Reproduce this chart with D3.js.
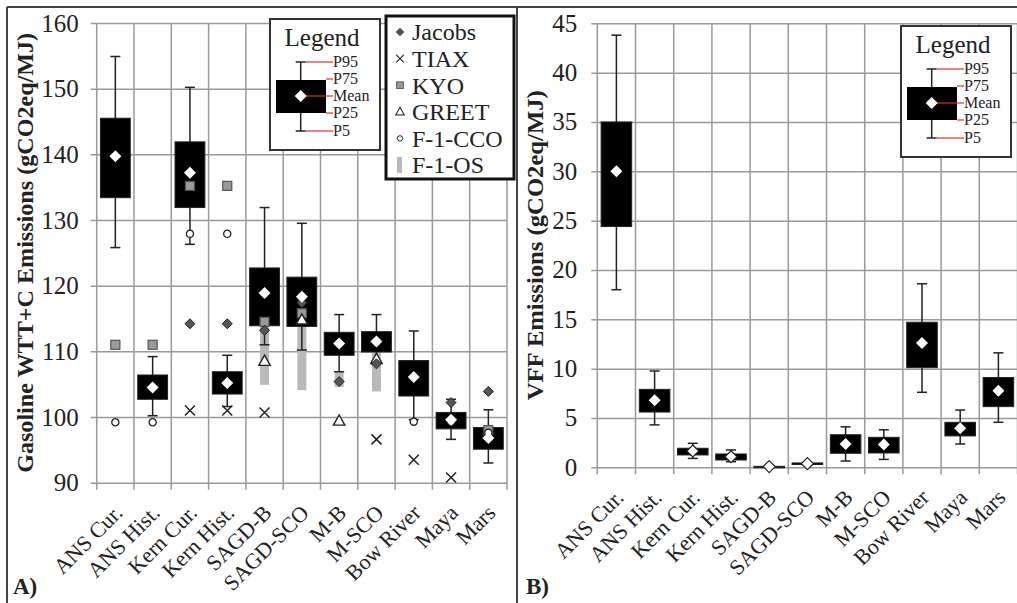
<!DOCTYPE html>
<html>
<head>
<meta charset="utf-8">
<script src="https://cdn.jsdelivr.net/npm/d3@7"></script>
<style>
  body { margin: 0; background: #fff; }
  svg { display: block; font-family: "Liberation Serif", "Times New Roman", serif; }
</style>
</head>
<body>
<svg id="chart" width="1017" height="603"></svg>
<script>
var crudes = ["ANS Cur.", "ANS Hist.", "Kern Cur.", "Kern Hist.", "SAGD-B", "SAGD-SCO", "M-B", "M-SCO", "Bow River", "Maya", "Mars"];

// A) gasoline WTT+C emissions (gCO2eq/MJ)
var wttP5   = [125.8, 100.2, 126.3, 101.6, 111.0, 110.2, 106.9, 108.5,  99.6,  96.6,  93.0];
var wttP25  = [133.4, 102.7, 131.9, 103.5, 113.9, 113.8, 109.4, 109.9, 103.2,  98.2,  95.1];
var wttMean = [139.7, 104.5, 137.2, 105.2, 118.9, 118.3, 111.2, 111.5, 106.1,  99.6,  96.8];
var wttP75  = [145.5, 106.4, 141.9, 106.9, 122.7, 121.3, 112.9, 113.0, 108.6, 100.7,  98.4];
var wttP95  = [154.9, 109.2, 150.2, 109.4, 131.9, 129.5, 115.6, 115.6, 113.1, 102.7, 101.1];

// other studies (null = no value)
var jacobs   = [null, null, 114.2, 114.2, 113.2, 117.4, 105.4, 108.1, null, 102.2, 103.9];
var tiax     = [null, null, 101.0, 101.0, 100.7, null, null, 96.6, 93.5, 90.8, null];
var kyo      = [111.0, 111.0, 135.2, 135.2, 114.5, 115.8, null, null, null, null, 98.0];
var greet    = [null, null, null, null, 108.5, 114.8, 99.4, 108.8, null, null, null];
var f1cco    = [99.2, 99.2, 127.9, 127.9, null, null, null, null, 99.3, 99.3, 97.6];
var f1osLow  = [null, null, null, null, 104.9, 104.1, 104.6, 103.9, null, null, null];
var f1osHigh = [null, null, null, null, 114.8, 116.0, 107.0, 109.8, null, null, null];

// B) VFF emissions (gCO2eq/MJ)
var vffP5   = [18.0, 4.3, 0.9, 0.57, 0.0, 0.25, 0.64, 0.8, 7.6, 2.36, 4.56];
var vffP25  = [24.4, 5.6, 1.25, 0.74, 0.02, 0.3, 1.42, 1.45, 10.1, 3.18, 6.15];
var vffMean = [30.0, 6.8, 1.65, 1.07, 0.07, 0.37, 2.36, 2.3, 12.6, 3.95, 7.77];
var vffP75  = [35.0, 7.9, 1.93, 1.35, 0.1, 0.44, 3.3, 3.04, 14.7, 4.56, 9.1];
var vffP95  = [43.8, 9.76, 2.43, 1.76, 0.12, 0.48, 4.1, 3.8, 18.6, 5.8, 11.6];

var yTicksA = [90, 100, 110, 120, 130, 140, 150, 160];
var yTicksB = [0, 5, 10, 15, 20, 25, 30, 35, 40, 45];

var legendStats = ["P95", "P75", "Mean", "P25", "P5"];
var legendStudies = ["Jacobs", "TIAX", "KYO", "GREET", "F-1-CCO", "F-1-OS"];

var svg = d3.select("#chart");

function diamond(r) { return "M0," + (-r) + "L" + r + ",0L0," + r + "L" + (-r) + ",0Z"; }
function triangle(r) { return "M0," + (-r) + "L" + (r * 0.95) + "," + (r * 0.7) + "L" + (-r * 0.95) + "," + (r * 0.7) + "Z"; }

// marker drawers, shared by plot and legend
var markers = {
  Jacobs: function(sel) { sel.append("path").attr("d", diamond(5)).attr("fill", "#555").attr("stroke", "#222").attr("stroke-width", 1); },
  TIAX: function(sel) { sel.append("path").attr("d", "M-5,-5L5,5M-5,5L5,-5").attr("stroke", "#222").attr("stroke-width", 1.5).attr("fill", "none"); },
  KYO: function(sel) { sel.append("rect").attr("x", -4.5).attr("y", -4.5).attr("width", 9).attr("height", 9).attr("fill", "#9a9a9a").attr("stroke", "#555").attr("stroke-width", 1.2); },
  GREET: function(sel) { sel.append("path").attr("d", triangle(6)).attr("fill", "#fff").attr("stroke", "#222").attr("stroke-width", 1.4); },
  "F-1-CCO": function(sel) { sel.append("circle").attr("r", 3.6).attr("fill", "#fff").attr("stroke", "#222").attr("stroke-width", 1.3); }
};

function drawPanel(p) {
  var x = d3.scaleBand().domain(crudes).range([p.left, p.right]).padding(0);
  var y = d3.scaleLinear().domain(p.domain).range([p.bottom, p.top]);
  var g = svg.append("g");
  var bw = x.bandwidth();
  var cx = function(d) { return x(d.c) + bw / 2; };

  // vertical grid at the category edges
  var edges = crudes.map(function(c) { return x(c); }).concat([p.right]);
  g.selectAll(".vgrid").data(edges).enter().append("line")
    .attr("x1", function(d) { return d; }).attr("x2", function(d) { return d; })
    .attr("y1", p.top).attr("y2", p.bottom + 7)
    .attr("stroke", "#9a9a9a").attr("stroke-width", 1.5);

  // y axis + horizontal grid
  var yAxis = d3.axisLeft(y).tickValues(p.ticks)
    .tickSizeInner(-(p.right - p.left)).tickSizeOuter(0).tickPadding(p.tickPad);
  var ya = g.append("g").attr("transform", "translate(" + p.left + ",0)").call(yAxis);
  ya.select(".domain").remove();
  ya.selectAll("line").attr("x1", -6).attr("stroke", "#9a9a9a").attr("stroke-width", 1.5);
  ya.selectAll("text").attr("font-size", 25).attr("fill", "#222")
    .style("font-family", "'Liberation Serif', serif");

  // x axis labels
  var xa = g.append("g").attr("transform", "translate(0," + p.bottom + ")")
    .call(d3.axisBottom(x).tickSize(0).tickPadding(0));
  xa.select(".domain").remove();
  xa.selectAll("text").attr("y", 0).attr("dy", "0.35em")
    .attr("text-anchor", "end").attr("font-size", 22).attr("fill", "#222")
    .style("font-family", "'Liberation Serif', serif")
    .attr("transform", "translate(3,26) rotate(-45)");

  var rows = crudes.map(function(c, i) {
    return { c: c, i: i, p5: p.p5[i], p25: p.p25[i], mean: p.mean[i], p75: p.p75[i], p95: p.p95[i] };
  });

  // F-1-OS range bars behind the boxes
  if (p.osLow) {
    var os = rows.filter(function(d) { return p.osLow[d.i] != null; });
    g.selectAll(".os").data(os).enter().append("rect")
      .attr("x", function(d) { return cx(d) - 4.5; }).attr("width", 9)
      .attr("y", function(d) { return y(p.osHigh[d.i]); })
      .attr("height", function(d) { return y(p.osLow[d.i]) - y(p.osHigh[d.i]); })
      .attr("fill", "#b9b9b9");
  }

  // whiskers
  g.selectAll(".wh").data(rows).enter().append("line")
    .attr("x1", cx).attr("x2", cx)
    .attr("y1", function(d) { return y(d.p95); }).attr("y2", function(d) { return y(d.p5); })
    .attr("stroke", "#222").attr("stroke-width", 1.5);
  ["p95", "p5"].forEach(function(k) {
    g.selectAll(".cap-" + k).data(rows).enter().append("line")
      .attr("x1", function(d) { return cx(d) - 5; }).attr("x2", function(d) { return cx(d) + 5; })
      .attr("y1", function(d) { return y(d[k]); }).attr("y2", function(d) { return y(d[k]); })
      .attr("stroke", "#222").attr("stroke-width", 1.5);
  });

  // boxes p25..p75
  g.selectAll(".box").data(rows).enter().append("rect")
    .attr("x", function(d) { return cx(d) - bw * 0.4; }).attr("width", bw * 0.8)
    .attr("y", function(d) { return y(d.p75); })
    .attr("height", function(d) { return Math.max(1.5, y(d.p25) - y(d.p75)); })
    .attr("fill", "#000").attr("stroke", "#222").attr("stroke-width", 1);

  // study points
  (p.studies || []).forEach(function(s) {
    var pts = rows.filter(function(d) { return s.values[d.i] != null; });
    g.selectAll(".pt-" + s.name.replace(/\W/g, "")).data(pts).enter().append("g")
      .attr("transform", function(d) { return "translate(" + cx(d) + "," + y(s.values[d.i]) + ")"; })
      .each(function() { markers[s.name](d3.select(this)); });
  });

  // means
  g.selectAll(".mean").data(rows).enter().append("path")
    .attr("d", diamond(6))
    .attr("transform", function(d) { return "translate(" + cx(d) + "," + y(d.mean) + ")"; })
    .attr("fill", "#fff")
    .attr("stroke", function(d) { return (y(d.p25) - y(d.p75)) < 10 ? "#222" : "none"; })
    .attr("stroke-width", 1.2);

  // axis title
  g.append("text")
    .attr("transform", "translate(" + p.titleX + "," + ((p.top + p.bottom) / 2) + ") rotate(-90)")
    .attr("text-anchor", "middle").attr("dy", "0.35em")
    .attr("font-size", 24).attr("font-weight", "bold").attr("fill", "#222")
    .attr("textLength", p.titleLen).attr("lengthAdjust", "spacingAndGlyphs")
    .text(p.title);

  g.append("text").attr("x", p.tagX).attr("y", 594)
    .attr("font-size", 23).attr("font-weight", "bold").attr("fill", "#222")
    .text(p.tag);
}

function boxLegend(x0, y0) {
  var lg = svg.append("g").attr("transform", "translate(" + x0 + "," + y0 + ")");
  lg.append("rect").attr("width", 110).attr("height", 131)
    .attr("fill", "#fff").attr("stroke", "#333").attr("stroke-width", 2);
  lg.append("text").attr("x", 52).attr("y", 27).attr("text-anchor", "middle")
    .attr("font-size", 25).attr("fill", "#222").text("Legend");
  var ly = [43, 60, 77, 94, 112];
  var lineStart = [36, 56, 36, 56, 36];
  lg.append("line").attr("x1", 30.7).attr("x2", 30.7).attr("y1", 43).attr("y2", 112)
    .attr("stroke", "#222").attr("stroke-width", 1.5);
  lg.append("rect").attr("x", 6).attr("y", 61).attr("width", 50).attr("height", 33).attr("fill", "#000");
  [43, 112].forEach(function(v) {
    lg.append("line").attr("x1", 25.7).attr("x2", 35.7).attr("y1", v).attr("y2", v)
      .attr("stroke", "#222").attr("stroke-width", 1.5);
  });
  legendStats.forEach(function(s, i) {
    lg.append("line").attr("x1", lineStart[i]).attr("x2", 63).attr("y1", ly[i]).attr("y2", ly[i])
      .attr("stroke", "#e03030").attr("stroke-width", 1.2);
    lg.append("text").attr("x", 63).attr("y", ly[i]).attr("dy", "0.33em")
      .attr("font-size", 16).attr("fill", "#222").text(s);
  });
  lg.append("path").attr("d", diamond(6)).attr("transform", "translate(30.7,77)").attr("fill", "#fff");
}

// outer frame
svg.append("line").attr("x1", 7).attr("x2", 1017).attr("y1", 7).attr("y2", 7).attr("stroke", "#444").attr("stroke-width", 2);
svg.append("line").attr("x1", 7).attr("x2", 7).attr("y1", 7).attr("y2", 603).attr("stroke", "#444").attr("stroke-width", 2);
svg.append("line").attr("x1", 517).attr("x2", 517).attr("y1", 7).attr("y2", 603).attr("stroke", "#444").attr("stroke-width", 2);

drawPanel({
  left: 96.7, right: 507, top: 23, bottom: 482.7,
  domain: [90, 160], ticks: yTicksA, tickPad: 18,
  p5: wttP5, p25: wttP25, mean: wttMean, p75: wttP75, p95: wttP95,
  osLow: f1osLow, osHigh: f1osHigh,
  studies: [
    { name: "KYO", values: kyo },
    { name: "GREET", values: greet },
    { name: "Jacobs", values: jacobs },
    { name: "F-1-CCO", values: f1cco },
    { name: "TIAX", values: tiax }
  ],
  title: "Gasoline WTT+C Emissions (gCO2eq/MJ)", titleLen: 440, titleX: 25, tag: "A)", tagX: 13
});

drawPanel({
  left: 597.3, right: 1017.5, top: 23.3, bottom: 467.3,
  domain: [0, 45], ticks: yTicksB, tickPad: 20,
  p5: vffP5, p25: vffP25, mean: vffMean, p75: vffP75, p95: vffP95,
  title: "VFF Emissions (gCO2eq/MJ)", titleLen: 310, titleX: 535, tag: "B)", tagX: 526
});

boxLegend(270, 19);
boxLegend(901, 26);

// study legend
var sl = svg.append("g").attr("transform", "translate(386,16)");
sl.append("rect").attr("width", 128).attr("height", 163)
  .attr("fill", "#fff").attr("stroke", "#111").attr("stroke-width", 3);
legendStudies.forEach(function(s, i) {
  var row = sl.append("g").attr("transform", "translate(0," + (16 + i * 26.6) + ")");
  var m = row.append("g").attr("transform", "translate(14,0) scale(0.75)");
  if (markers[s]) markers[s](m);
  else row.append("rect").attr("x", 11).attr("y", -8).attr("width", 5).attr("height", 16).attr("fill", "#b9b9b9");
  row.append("text").attr("x", 26).attr("dy", "0.35em").attr("font-size", 24).attr("fill", "#222").text(s);
});
</script>
</body>
</html>
